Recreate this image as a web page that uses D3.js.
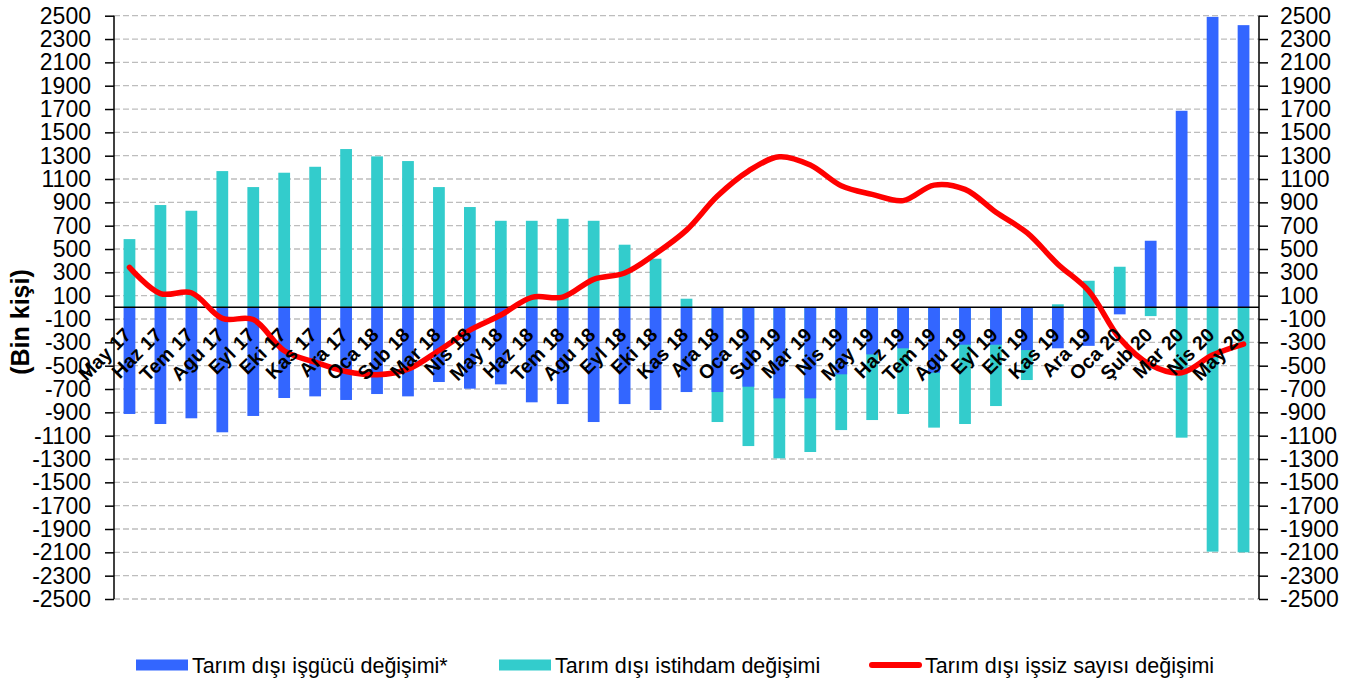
<!DOCTYPE html>
<html>
<head>
<meta charset="utf-8">
<script src="https://cdn.jsdelivr.net/npm/d3@7"></script>
<style>
  html, body { margin: 0; padding: 0; background: #fff; }
  svg { display: block; }
  text { font-family: "Liberation Sans", Arial, sans-serif; }
</style>
</head>
<body>
<svg id="chart" width="1354" height="684"></svg>
<script>
// ---- Data ----
const months = ["May 17","Haz 17","Tem 17","Agu 17","Eyl 17","Eki 17","Kas 17","Ara 17",
  "Oca 18","Sub 18","Mar 18","Nis 18","May 18","Haz 18","Tem 18","Agu 18","Eyl 18","Eki 18","Kas 18","Ara 18",
  "Oca 19","Sub 19","Mar 19","Nis 19","May 19","Haz 19","Tem 19","Agu 19","Eyl 19","Eki 19","Kas 19","Ara 19",
  "Oca 20","Şub 20","Mar 20","Nis 20","May 20"];

// Tarım dışı işgücü değişimi* (blue)
const laborForce = [-914,-1000,-951,-1071,-931,-777,-763,-794,
  -743,-763,-640,-697,-660,-814,-829,-983,-829,-880,-726,-726,
  -680,-780,-780,-574,-403,-351,-560,-320,-320,-366,-351,-330,
  -60,571,1685,2490,2419];

// Tarım dışı istihdam değişimi (teal)
const employment = [585,877,828,1168,1031,1154,1205,1357,
  1294,1254,1031,860,742,742,759,742,537,417,74,-983,
  -1189,-1294,-1240,-1052,-966,-914,-1031,-1000,-846,-623,26,228,
  348,-75,-1117,-2094,-2100];

// Tarım dışı işsiz sayısı değişimi (red line)
const unemployed = [343,118,125,-95,-105,-372,-470,-550,
  -578,-530,-370,-195,-66,86,88,240,295,460,662,954,
  1168,1291,1220,1042,968,915,1048,1011,815,640,370,140,
  -266,-494,-560,-409,-315];

const yTicks = d3.range(-2500, 2501, 200);

const legendLabels = ["Tarım dışı işgücü değişimi*", "Tarım dışı istihdam değişimi", "Tarım dışı işsiz sayısı değişimi"];

// ---- Styles ----
const BLUE = "#3366FF", TEAL = "#33CCCC", RED = "#FF0000";

const svg = d3.select("#chart");
const pL = 114, pR = 1259, pT = 15.7, pB = 599;

const x = d3.scaleBand().domain(months).range([pL, pR])
  .paddingInner(0.62).paddingOuter(0.31);
const y = d3.scaleLinear().domain([-2500, 2500]).range([pB, pT]);
const cx = m => x(m) + x.bandwidth() / 2;

// gridlines
svg.append("g").selectAll("line").data(yTicks).join("line")
  .attr("x1", pL).attr("x2", pR)
  .attr("y1", d => y(d)).attr("y2", d => y(d))
  .attr("stroke", "#bdbdbd").attr("stroke-width", 1.3)
  .attr("stroke-dasharray", "6,3");

// teal bars
svg.append("g").selectAll("rect").data(months).join("rect")
  .attr("x", m => x(m)).attr("width", x.bandwidth())
  .attr("y", (m, i) => y(Math.max(0, employment[i])))
  .attr("height", (m, i) => Math.abs(y(employment[i]) - y(0)))
  .attr("fill", TEAL);

// blue bars
svg.append("g").selectAll("rect").data(months).join("rect")
  .attr("x", m => x(m)).attr("width", x.bandwidth())
  .attr("y", (m, i) => y(Math.max(0, laborForce[i])))
  .attr("height", (m, i) => Math.abs(y(laborForce[i]) - y(0)))
  .attr("fill", BLUE);

// zero line
svg.append("line").attr("x1", pL).attr("x2", pR)
  .attr("y1", y(0)).attr("y2", y(0))
  .attr("stroke", "#000").attr("stroke-width", 1.5);

// axes
const fmt = d => String(d);
const gL = svg.append("g").attr("transform", `translate(${pL},0)`)
  .call(d3.axisLeft(y).tickValues(yTicks).tickSize(9).tickPadding(14).tickFormat(fmt));
const gR = svg.append("g").attr("transform", `translate(${pR},0)`)
  .call(d3.axisRight(y).tickValues(yTicks).tickSize(9).tickPadding(12).tickFormat(fmt));
[gL, gR].forEach(g => {
  g.select(".domain").attr("stroke", "#000").attr("stroke-width", 1.5)
    .attr("d", `M0,${pT}V${pB}`);
  g.selectAll(".tick line").attr("stroke", "#000").attr("stroke-width", 1.5);
  g.selectAll(".tick text").attr("font-size", 23).attr("fill", "#000")
    .attr("font-family", "'Liberation Sans', Arial, sans-serif");
});

// red line
const line = d3.line()
  .x((d, i) => cx(months[i]))
  .y(d => y(d))
  .curve(d3.curveCatmullRom.alpha(0.5));
svg.append("path").datum(unemployed)
  .attr("d", line).attr("fill", "none")
  .attr("stroke", RED).attr("stroke-width", 5.5)
  .attr("stroke-linecap", "round").attr("stroke-linejoin", "round");

// x labels
svg.append("g").selectAll("text").data(months).join("text")
  .attr("transform", m => `translate(${cx(m) + 3},336) rotate(-45)`)
  .attr("text-anchor", "end")
  .attr("font-size", 19.5).attr("font-weight", "bold")
  .text(m => m);

// y title
svg.append("text")
  .attr("transform", "translate(29,322) rotate(-90)")
  .attr("text-anchor", "middle")
  .attr("font-size", 25).attr("font-weight", "bold")
  .text("(Bin kişi)");

// legend
const legendX = [136, 499, 869];
const lg = svg.append("g");
legendLabels.forEach((lab, i) => {
  const g = lg.append("g").attr("transform", `translate(${legendX[i]},665)`);
  if (i < 2) {
    g.append("rect").attr("x", 0).attr("y", -5.5).attr("width", 52).attr("height", 11)
      .attr("fill", i === 0 ? BLUE : TEAL);
  } else {
    g.append("line").attr("x1", 3).attr("x2", 50).attr("y1", 0).attr("y2", 0)
      .attr("stroke", RED).attr("stroke-width", 6).attr("stroke-linecap", "round");
  }
  g.append("text").attr("x", 56).attr("y", 0).attr("dy", "0.36em")
    .attr("font-size", 21.5).text(lab);
});
</script>
</body>
</html>
